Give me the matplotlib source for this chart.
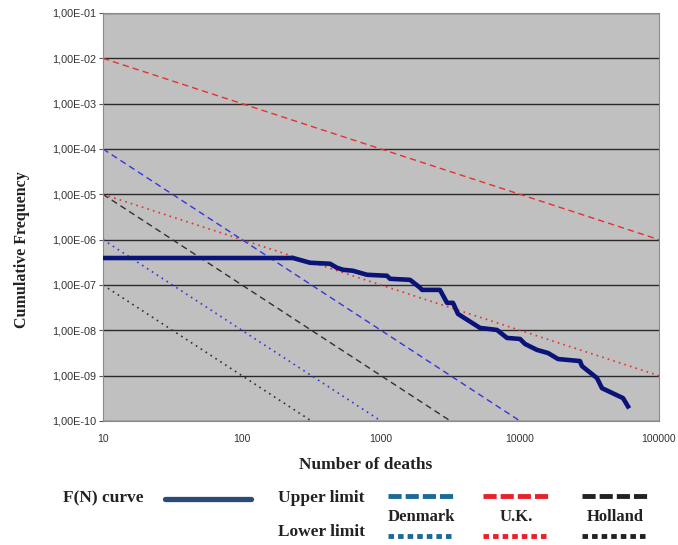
import matplotlib.pyplot as plt
from matplotlib.lines import Line2D

# F(N) curve
fn_deaths = [10, 233, 308, 430, 482, 533, 629, 793, 1104, 1161, 1618, 1910, 1973,
             2656, 2985, 3295, 3580, 5158, 6834, 8060, 10000, 10870, 13250, 15900,
             18770, 27000, 27900, 35800, 38900, 55100, 59800]
fn_freq = [3.94e-7, 3.94e-7, 3.1e-7, 2.94e-7, 2.4e-7, 2.17e-7, 2.06e-7, 1.68e-7,
           1.6e-7, 1.37e-7, 1.3e-7, 8.7e-8, 7.8e-8, 7.8e-8, 4.04e-8, 4.04e-8,
           2.3e-8, 1.13e-8, 1.02e-8, 6.8e-9, 6.45e-9, 5.0e-9, 3.7e-9, 3.16e-9,
           2.33e-9, 2.1e-9, 1.63e-9, 8.85e-10, 5.3e-10, 3.2e-10, 2.1e-10]

# criterion lines: (deaths at ends, frequency at ends)
uk_upper_n, uk_upper_f = [10, 100000], [1e-2, 1e-6]
uk_lower_n, uk_lower_f = [10, 100000], [1e-5, 1e-9]
dk_upper_n, dk_upper_f = [10, 10000], [1e-4, 1e-10]
dk_lower_n, dk_lower_f = [10, 1000], [1e-6, 1e-10]
nl_upper_n, nl_upper_f = [10, 3162], [1e-5, 1e-10]
nl_lower_n, nl_lower_f = [10, 316], [1e-7, 1e-10]

y_ticks = [10.0 ** (-k) for k in range(1, 11)]
y_labels = ["1,00E-%02d" % k for k in range(1, 11)]
x_ticks = [10, 100, 1000, 10000, 100000]
x_labels = ["10", "100", "1000", "10000", "100000"]

W, H = 678, 545
fig = plt.figure(figsize=(W / 100, H / 100), dpi=100)
ax = fig.add_axes([103 / W, 1 - 421 / H, (659 - 103) / W, (421 - 13) / H])
ax.set_facecolor("#c0c0c0")
ax.set_xscale("log")
ax.set_yscale("log")
ax.set_xlim(10, 100000)
ax.set_ylim(1e-10, 1e-1)

for y in y_ticks:
    ax.axhline(y, color="#2a2a2a", lw=1.0, zorder=1)

red = "#e8302a"
blue = "#3535e0"
black = "#303030"
ax.plot(uk_upper_n, uk_upper_f, color=red, lw=1.0, dashes=(4.5, 3), zorder=2)
ax.plot(uk_lower_n, uk_lower_f, color=red, lw=1.2, dashes=(1, 2.5), zorder=2)
ax.plot(dk_upper_n, dk_upper_f, color=blue, lw=1.0, dashes=(4.5, 3), zorder=2)
ax.plot(dk_lower_n, dk_lower_f, color=blue, lw=1.2, dashes=(1, 2.5), zorder=2)
ax.plot(nl_upper_n, nl_upper_f, color=black, lw=1.0, dashes=(4.5, 3), zorder=2)
ax.plot(nl_lower_n, nl_lower_f, color=black, lw=1.2, dashes=(1, 2.5), zorder=2)
ax.plot(fn_deaths, fn_freq, color="#0a1478", lw=3.3, zorder=3,
        solid_joinstyle="round")

ax.set_yticks(y_ticks)
ax.set_yticklabels(y_labels, family="Liberation Sans")
ax.set_xticks(x_ticks)
ax.set_xticklabels(x_labels, family="Liberation Sans")
ax.minorticks_off()
ax.tick_params(axis="y", labelsize=7.8, length=3, color="#555555",
               labelcolor="#333333", pad=2)
ax.tick_params(axis="x", labelsize=7.5, length=0, labelcolor="#333333", pad=9)
for s in ax.spines.values():
    s.set_color("#8a8a8a")

serif = "Liberation Serif"
fig.text(366 / W, 1 - 465 / H, "Number of deaths", family=serif,
         weight="bold", fontsize=12.5, ha="center", va="center", color="#222222")
fig.text(22 / W, 1 - 250 / H, "Cumulative Frequency", family=serif,
         weight="bold", fontsize=11.5, rotation=90, ha="center", va="center",
         color="#222222")

# legend drawn in figure pixels
def fx(x):
    return x / W

def fy(y):
    return 1 - y / H

fig.text(fx(63), fy(498), "F(N) curve", family=serif, weight="bold",
         fontsize=12.5, va="center", color="#222222")
fig.add_artist(Line2D([fx(165), fx(251)], [fy(499), fy(499)], color="#2a4a7a",
                      lw=3.8, solid_capstyle="round"))
fig.text(fx(278), fy(498), "Upper limit", family=serif, weight="bold",
         fontsize=12.5, va="center", color="#222222")
fig.text(fx(278), fy(532), "Lower limit", family=serif, weight="bold",
         fontsize=12.5, va="center", color="#222222")

leg_names = ["Denmark", "U.K.", "Holland"]
leg_colors = ["#1a6a98", "#e8202a", "#222222"]
leg_x0 = [388, 483, 582]
for name, col, x0 in zip(leg_names, leg_colors, leg_x0):
    fig.add_artist(Line2D([fx(x0), fx(x0 + 65)], [fy(496), fy(496)], color=col,
                          lw=3.5, dashes=(2.7, 0.83), solid_capstyle="butt"))
    fig.add_artist(Line2D([fx(x0), fx(x0 + 65)], [fy(536), fy(536)], color=col,
                          lw=3.5, dashes=(1.14, 0.83)))
    fig.text(fx(x0 + 33), fy(517), name, family=serif, weight="bold",
             fontsize=12, ha="center", va="center", color="#222222")

fig.savefig("out.png", dpi=100)
